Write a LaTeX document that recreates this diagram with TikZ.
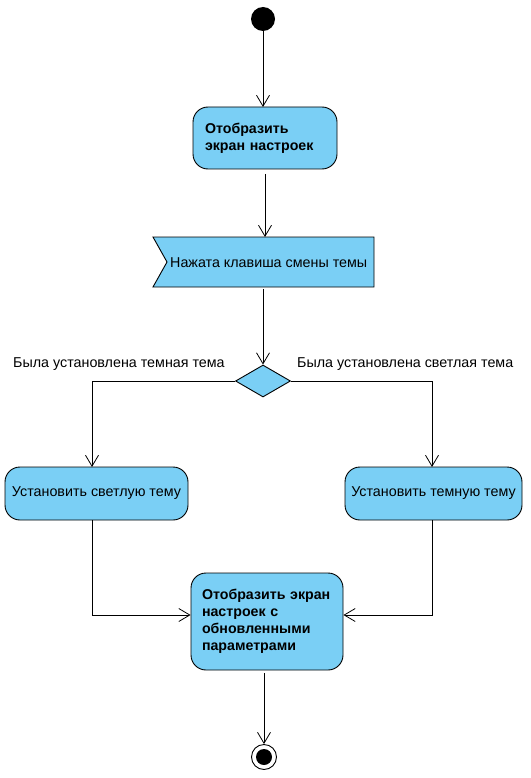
\documentclass[tikz,border=0pt]{standalone}
\usepackage{fontspec}
\setmainfont{Liberation Sans}
\usetikzlibrary{arrows.meta,shapes.geometric}
\definecolor{actblue}{RGB}{122,207,245}
\tikzset{
  act/.style={draw=black, fill=actblue, rounded corners=15pt, line width=0.9pt, inner sep=0pt},
  txt/.style={font=\fontsize{14.3}{17}\selectfont},
  btxt/.style={font=\fontsize{14.2}{17}\selectfont\bfseries},
  flow/.style={draw=black, line width=0.8pt, -{Straight Barb[length=11pt,width=13pt,line width=0.8pt]}},
}
\begin{document}
\begin{tikzpicture}[x=1pt,y=-1pt]
\useasboundingbox (0,0) rectangle (530,778);
% initial node
\node[circle, fill=black, minimum size=24pt, inner sep=0pt] (start) at (263,19) {};
% action 1
\node[act, minimum width=144pt, minimum height=62pt, text width=120pt, align=left, btxt] (a1) at (265,138) {Отобразить\\экран настроек\vphantom{g}\\[-2pt]};
% signal
\coordinate (sTL) at (153,237);
\coordinate (sTR) at (374,237);
\coordinate (sBR) at (374,287);
\coordinate (sBL) at (153,287);
\coordinate (sN) at (167,262);
\draw[fill=actblue, line width=0.9pt] (sTL) -- (sTR) -- (sBR) -- (sBL) -- (sN) -- cycle;
\node[txt, anchor=west, inner sep=0pt] (sig) at (170,263) {Нажата клавиша смены темы};
\coordinate (sigtop) at (265,237);
\coordinate (sigbot) at (263,289);
% decision
\node[diamond, draw=black, fill=actblue, line width=0.9pt, minimum width=55pt, minimum height=32pt, inner sep=0pt, aspect=1.7] (dec) at (263,381) {};
% branch labels
\node[txt, anchor=west, inner sep=0pt] (lblL) at (13,364) {Была установлена темная тема};
\node[txt, anchor=west, inner sep=0pt] (lblR) at (297,364) {Была установлена светлая тема};
% left / right actions
\node[act, minimum width=183pt, minimum height=53pt, txt] (aL) at (96.5,493.5) {Установить светлую тему};
\node[act, minimum width=177pt, minimum height=53pt, txt] (aR) at (433.5,493.5) {Установить темную тему};
% final action
\node[act, minimum width=152pt, minimum height=97pt, text width=130pt, align=left, btxt] (aF) at (267,621.5) {Отобразить экран\\настроек с\\обновленными\\параметрами};
% final node
\node[circle, draw=black, line width=0.9pt, fill=white, minimum size=25pt, inner sep=0pt] (end) at (264,757) {};
\node[circle, fill=black, minimum size=16pt, inner sep=0pt] (endin) at (264,757) {};
% connectors
\coordinate (tL) at (92,467);
\coordinate (tR) at (432,467);
\draw[flow] (start.south) -- (263,107);
\draw[flow] (265,174) -- (sigtop);
\draw[flow] (sigbot) -- (dec.north);
\draw[flow] (dec.west) -| (tL);
\draw[flow] (dec.east) -| (tR);
\coordinate (jL) at (92,615);
\coordinate (jR) at (432,615);
\draw[flow] (92,520) -- (jL) -- (aF.west |- jL);
\draw[flow] (432,520) -- (jR) -- (aF.east |- jR);
\draw[flow] (264,673) -- (end.north);
\end{tikzpicture}
\end{document}
